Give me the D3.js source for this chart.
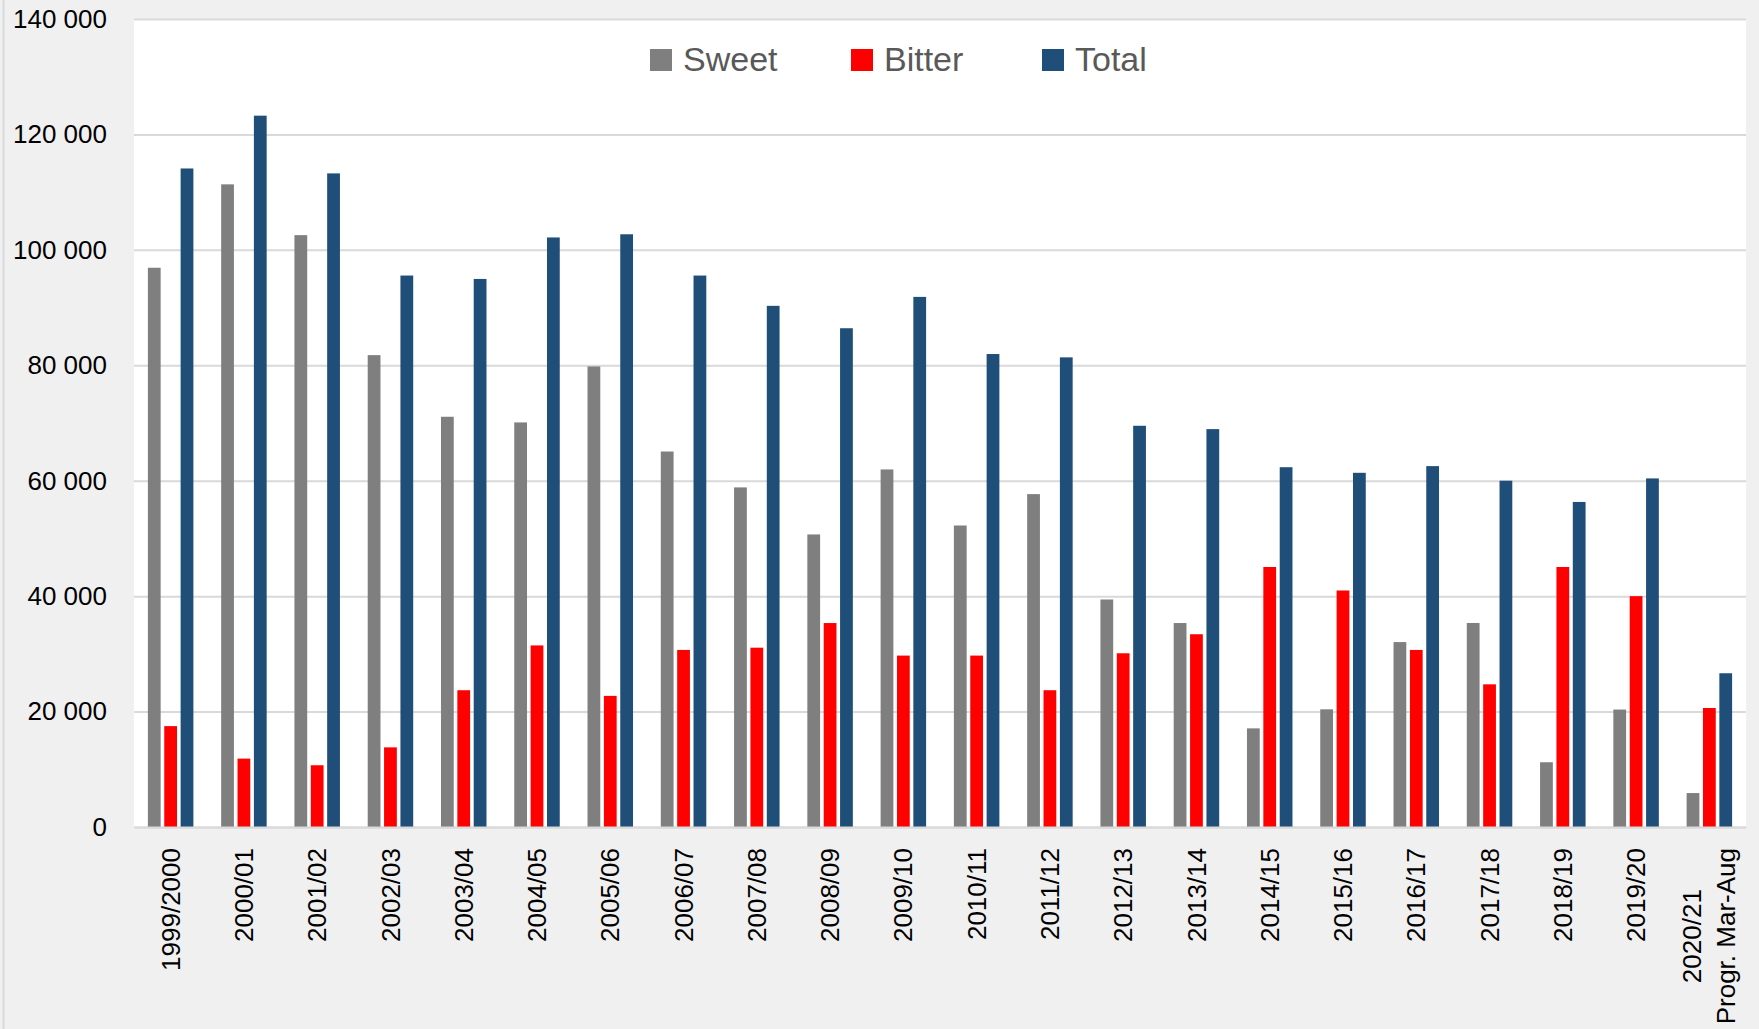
<!DOCTYPE html>
<html><head><meta charset="utf-8">
<script src="https://cdn.jsdelivr.net/npm/d3@7"></script>
<style>body{margin:0;background:#f0f0f0;} svg{display:block;}</style>
</head><body><svg id="chart" width="1759" height="1029"></svg>
<script>
const categories = ["1999/2000","2000/01","2001/02","2002/03","2003/04","2004/05","2005/06","2006/07","2007/08","2008/09","2009/10","2010/11","2011/12","2012/13","2013/14","2014/15","2015/16","2016/17","2017/18","2018/19","2019/20","2020/21\nProgr. Mar-Aug"];
const sweet  = [96900,111350,102550,81760,71080,70100,79800,65060,58840,50690,61950,52240,57680,39420,35340,17090,20390,32040,35350,11220,20350,5880];
const bitter = [17480,11850,10700,13800,23700,31460,22720,30680,31070,35340,29700,29700,23700,30100,33400,45050,40980,30680,24720,45050,40000,20620];
const total  = [114100,123250,113250,95550,94960,102150,102700,95550,90300,86420,91850,81950,81370,69520,68940,62340,61370,62530,60000,56320,60400,26640];
const yTicks = [0,20000,40000,60000,80000,100000,120000,140000];
const seriesNames = ["Sweet","Bitter","Total"];
const seriesColors = ["#7f7f7f","#ff0000","#1f4e79"];

const W = 1759, H = 1029;
const plot = {left:134, right:1746, top:19, bottom:827};
const svg = d3.select("#chart");
const font = "'Liberation Sans', Arial, sans-serif";

svg.append("rect").attr("width",W).attr("height",H).attr("fill","#f0f0f0");
svg.append("line").attr("x1",3.5).attr("x2",3.5).attr("y1",0).attr("y2",H)
  .attr("stroke","#d9d9d9").attr("stroke-width",2);
svg.append("rect").attr("x",plot.left).attr("y",plot.top)
  .attr("width",plot.right-plot.left).attr("height",plot.bottom-plot.top).attr("fill","#ffffff");

const x0 = d3.scaleBand().domain(categories).range([plot.left,plot.right]).paddingInner(0).paddingOuter(0);
const groupW = 45.5;
const x1 = d3.scaleBand().domain(seriesNames).range([0,groupW]).paddingInner(0.22);
const y = d3.scaleLinear().domain([0,140000]).range([plot.bottom,plot.top]);
const color = d3.scaleOrdinal().domain(seriesNames).range(seriesColors);

const loc = d3.formatLocale({decimal:".", thousands:" ", grouping:[3], currency:["",""]});
const fmt = loc.format(",");

// Y axis with gridlines
const yAxis = svg.append("g").attr("transform",`translate(${plot.left},0)`)
  .call(d3.axisLeft(y).tickValues(yTicks).tickFormat(fmt).tickSize(-(plot.right-plot.left)).tickPadding(27));
yAxis.select(".domain").remove();
yAxis.selectAll(".tick line").attr("stroke","#d9d9d9").attr("stroke-width",2);
yAxis.selectAll(".tick text").attr("font-family",font).attr("font-size",26).attr("fill","#000");

// bars
const data = categories.map((c,i)=>({cat:c, vals:[sweet[i],bitter[i],total[i]]}));
const groups = svg.append("g").selectAll("g").data(data).join("g")
  .attr("transform",d=>`translate(${x0(d.cat)+(x0.bandwidth()-groupW)/2},0)`);
groups.selectAll("rect").data(d=>d.vals.map((v,j)=>({name:seriesNames[j], v})))
  .join("rect")
  .attr("x",d=>x1(d.name)).attr("width",x1.bandwidth())
  .attr("y",d=>y(d.v)).attr("height",d=>y(0)-y(d.v))
  .attr("fill",d=>color(d.name));

// X axis
const xAxis = svg.append("g").attr("transform",`translate(0,${plot.bottom})`)
  .call(d3.axisBottom(x0).tickSize(0).tickFormat(""));
xAxis.select(".domain").attr("stroke","#d9d9d9").attr("stroke-width",2);
const labelTop = 21;
const lineGap = 34;
xAxis.selectAll(".tick").each(function(d){
  const lines = d.split("\n");
  const g = d3.select(this);
  const t = g.append("text").attr("transform","rotate(-90)")
    .attr("font-family",font).attr("font-size",26).attr("fill","#000");
  if (lines.length === 1) {
    t.attr("text-anchor","end").attr("x",-labelTop).attr("y",0).attr("dy","0.35em").text(lines[0]);
  } else {
    const tsp = lines.map((l,k)=>t.append("tspan").attr("text-anchor","middle")
      .attr("y",(k-(lines.length-1)/2)*lineGap).attr("dy","0.35em").text(l));
    const maxLen = d3.max(tsp, s=>s.node().getComputedTextLength());
    tsp.forEach(s=>s.attr("x",-(labelTop+maxLen/2)));
  }
});

// Legend
const legendX = [650,851,1042];
const legend = svg.append("g").selectAll("g").data(seriesNames).join("g")
  .attr("transform",(d,i)=>`translate(${legendX[i]},49)`);
legend.append("rect").attr("width",22).attr("height",22).attr("fill",d=>color(d));
legend.append("text").attr("x",33).attr("y",22)
  .attr("font-family",font).attr("font-size",34).attr("fill","#595959").text(d=>d);
</script></body></html>
